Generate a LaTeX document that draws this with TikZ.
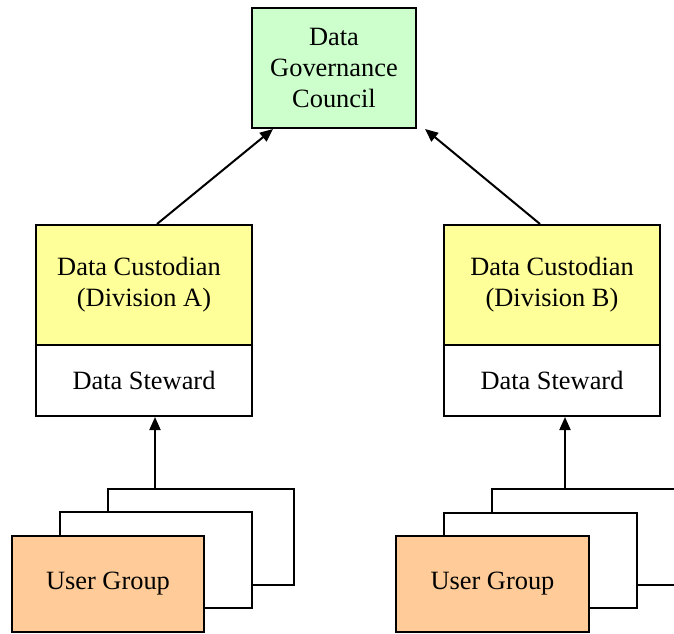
\documentclass[tikz,border=0pt]{standalone}
\usepackage{fontspec}
\setmainfont{Liberation Serif}
\usetikzlibrary{arrows.meta}
\definecolor{councilgreen}{HTML}{CCFFCC}
\definecolor{custyellow}{HTML}{FFFF99}
\definecolor{userorange}{HTML}{FFCC99}
\begin{document}
\begin{tikzpicture}[x=0.5pt,y=-0.5pt,
  box/.style={draw=black, line width=1pt, rectangle, inner sep=0pt, align=center,
    font=\fontsize{13.2}{15.5}\selectfont},
  arr/.style={draw=black, line width=1pt, -{Triangle[length=6.5pt,width=5.5pt]}}]
\clip (0,0) rectangle (674,633);
\fill[white] (0,0) rectangle (674,633);
% council
\node[box, fill=councilgreen, minimum width=82pt, minimum height=60pt] (council) at (334,68) {Data\\Governance\\Council};
% custodians
\node[box, fill=custyellow, minimum width=108pt, minimum height=60pt] (custA) at (144,285) {Data Custodian\hspace*{5pt}\\ (Division A)};
\node[box, fill=white, minimum width=108pt, minimum height=35.5pt] (stewA) at (144,380.5) {Data Steward};
\node[box, fill=custyellow, minimum width=108pt, minimum height=60pt] (custB) at (552,285) {Data Custodian\\(Division B)};
\node[box, fill=white, minimum width=108pt, minimum height=35.5pt] (stewB) at (552,380.5) {Data Steward};
% left stack
\node[box, fill=white, minimum width=93pt, minimum height=48pt] (backA) at (201,537) {};
\node[box, fill=white, minimum width=96pt, minimum height=48pt] (midA) at (156,560) {};
\node[box, fill=userorange, minimum width=96pt, minimum height=48pt] (userA) at (108,584) {User Group};
% right stack
\node[box, fill=white, minimum width=94pt, minimum height=48pt] (backB) at (586,537) {};
\node[box, fill=white, minimum width=96.5pt, minimum height=47.5pt] (midB) at (540.5,560.5) {};
\node[box, fill=userorange, minimum width=96.5pt, minimum height=48pt] (userB) at (492.5,584) {User Group};
% connectors
\draw[arr] ([xshift=6.5pt]custA.north) -- ([xshift=-30.5pt]council.south);
\draw[arr] ([xshift=-6pt]custB.north) -- ([xshift=45.5pt]council.south);
\draw[arr] ([xshift=-23pt]backA.north) -- ([xshift=5.5pt]stewA.south);
\draw[arr] ([xshift=-10.5pt]backB.north) -- ([xshift=6.5pt]stewB.south);
\end{tikzpicture}
\end{document}
